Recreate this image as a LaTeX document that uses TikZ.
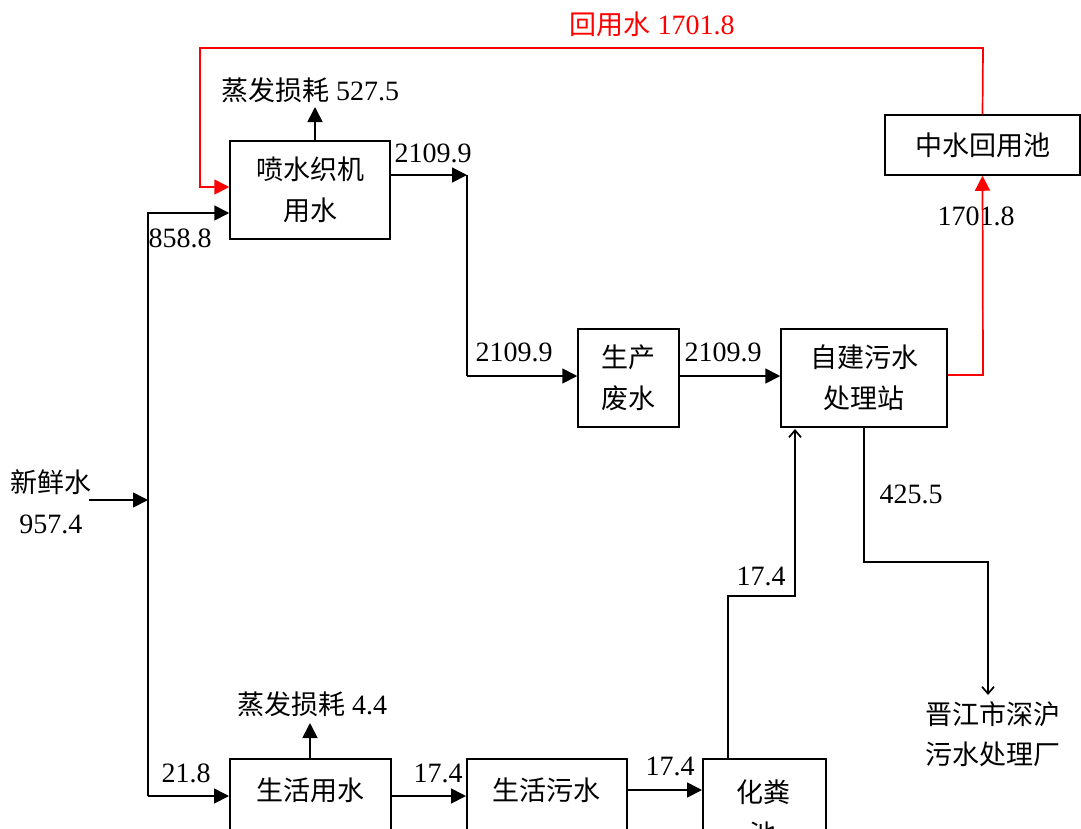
\documentclass[tikz,border=0pt]{standalone}
\usepackage{fontspec}
\setmainfont{Liberation Serif}
\newfontfamily\cjk{Noto Sans CJK SC}
\usetikzlibrary{arrows.meta}
\newcommand{\zh}[1]{{\cjk\fontsize{27}{40}\selectfont #1}}
\begin{document}
\begin{tikzpicture}[x=1pt,y=-1pt,
  every node/.style={font=\fontsize{28}{40}\selectfont, inner sep=0pt},
  box/.style={draw, line width=1.5pt, align=center, font=\cjk\fontsize{27}{41}\selectfont},
  zhtxt/.style={font=\cjk\fontsize{27}{40}\selectfont},
  ln/.style={line width=1.7pt},
  tri/.style={ln, -{Triangle[length=15pt,width=15pt]}},
  barb/.style={ln, -{Straight Barb[length=7pt,width=12pt]}},
  rline/.style={color=red},
  lbl/.style={align=center}]
\useasboundingbox (0,0) rectangle (1081,828);
\clip (0,0) rectangle (1081,828);

% boxes
\node[box, minimum width=160pt, minimum height=98pt] (P) at (310,190) {喷水织机\\用水};
\node[box, minimum width=195pt, minimum height=60pt] (Z) at (982.5,145) {中水回用池};
\node[box, minimum width=101pt, minimum height=98pt] (S) at (628.5,378) {生产\\废水};
\node[box, minimum width=166pt, minimum height=98pt] (W) at (864,378) {自建污水\\处理站};
\node[box, anchor=north west, minimum width=161pt, minimum height=98pt] (L) at (229,758) {};
\node[box, anchor=north west, minimum width=160pt, minimum height=98pt] (H) at (466,758) {};
\node[box, anchor=north west, minimum width=123pt, minimum height=98pt] (F) at (702,758) {};
\node[zhtxt] (Lt) at (310,790) {生活用水};
\node[zhtxt] (Ht) at (546,790) {生活污水};
\node[zhtxt] (Ft) at (763,792) {化粪};
\node[zhtxt] (Ft2) at (763,834) {池};

% outside labels
\node[lbl] (fresh) at (51,482) {\zh{新鲜水}};
\node[lbl] (freshv) at (51,524) {957.4};
\node[lbl, text=red] (reuse) at (652,24) {\zh{回用水} 1701.8};
\node[lbl] (evap1) at (310,90) {\zh{蒸发损耗} 527.5};
\node[lbl] (evap2) at (312,704) {\zh{蒸发损耗} 4.4};
\node[lbl] (JJ) at (993,734) {\zh{晋江市深沪}\\\zh{污水处理厂}};

% value labels
\node (v1) at (433,153) {2109.9};
\node (v2) at (180,238) {858.8};
\node (v3) at (514,352) {2109.9};
\node (v4) at (723,352) {2109.9};
\node (v5) at (976,216) {1701.8};
\node (v6) at (911,494) {425.5};
\node (v7) at (761,576) {17.4};
\node (v8) at (186,773) {21.8};
\node (v9) at (438,773) {17.4};
\node (v10) at (670,766) {17.4};

% coordinates
\coordinate (fin) at (89,500);
\coordinate (trunk) at (148,500);
\coordinate (ttop) at (148,212);
\coordinate (tbot) at (148,796);
\coordinate (c1) at (467,175);
\coordinate (c2) at (467,376);
\coordinate (e1) at (315,107);
\coordinate (e2) at (310,723);
\coordinate (s1) at (864,562);
\coordinate (s2) at (988,562);
\coordinate (sout) at (988,695);
\coordinate (f1) at (728,596);
\coordinate (f2) at (795,596);
\coordinate (f3) at (795,429);
\coordinate (r1) at (983,48);
\coordinate (r2) at (200,48);
\coordinate (r3) at (200,187);
\coordinate (r4) at (983,375);

% fresh water
\draw[tri] (fin) -- (trunk);
\draw[ln] (ttop) -- (tbot);
\draw[tri] (148,213) -- (P.west |- 0,213);
\draw[tri] (tbot) -- (L.west |- tbot);

% spray loom
\draw[tri] (P.north -| e1) -- (e1);
\draw[tri] (P.east |- c1) -- (c1);
\draw[ln] (c1) -- (c2);
\draw[tri] (c2) -- (S.west |- c2);
\draw[tri] (S.east |- c2) -- (W.west |- c2);

% treatment station
\draw[tri, rline] (W.east |- r4) -- (r4) -- (Z.south);
\draw[tri, rline] (Z.north) -- (r1) -- (r2) -- (r3) -- (P.west |- r3);
\draw[barb] (W.south) -- (s1) -- (s2) -- (sout);

% domestic
\draw[tri] (L.north -| e2) -- (e2);
\draw[tri] (L.east |- 0,796) -- (H.west |- 0,796);
\draw[tri] (626,790) -- (F.west |- 0,790);
\draw[barb] (F.north -| f1) -- (f1) -- (f2) -- (f3);
\end{tikzpicture}
\end{document}
